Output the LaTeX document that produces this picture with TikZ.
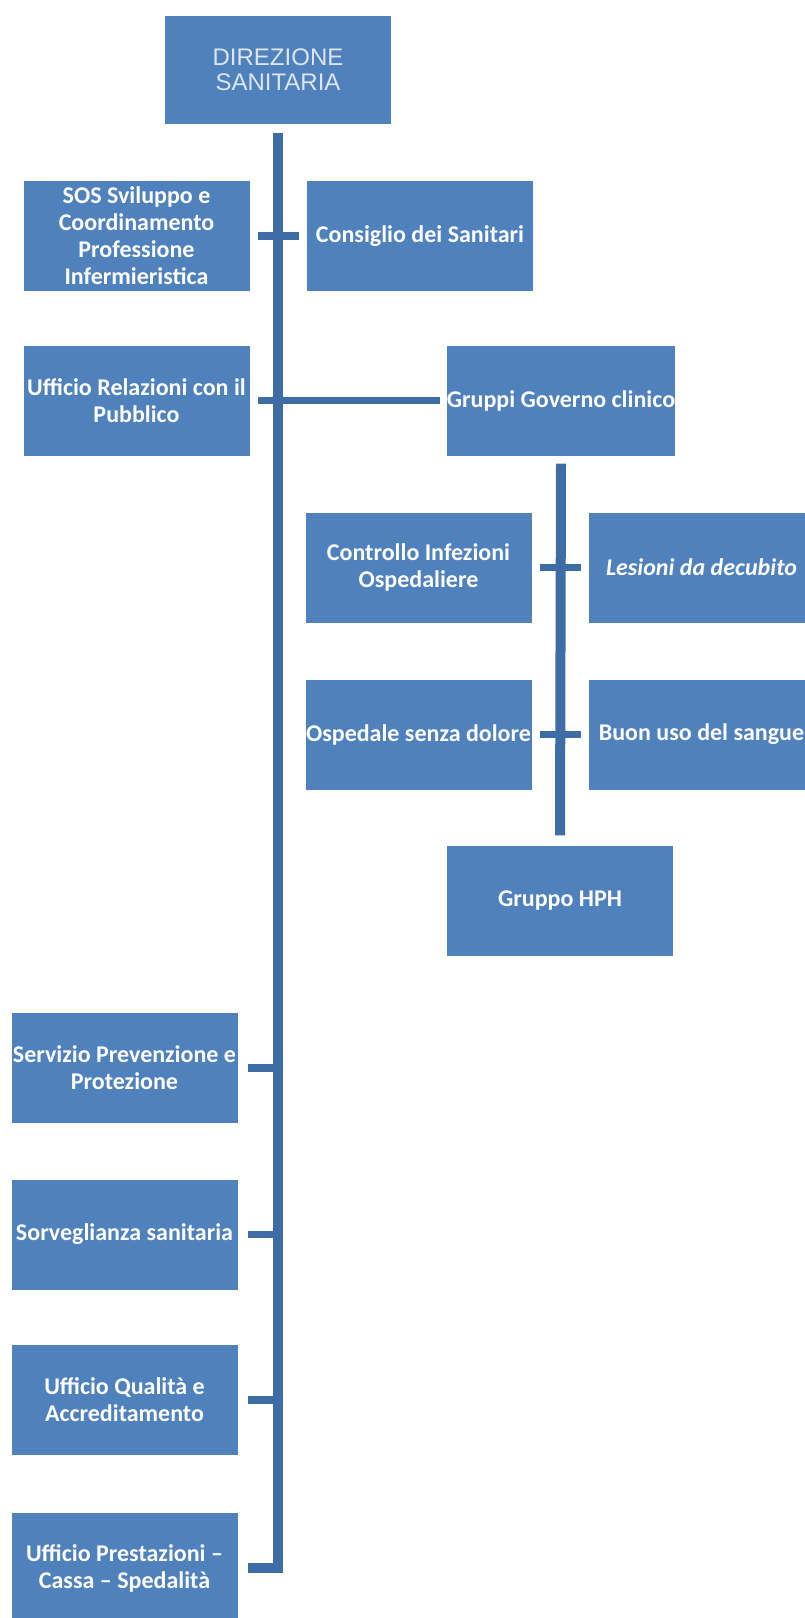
\documentclass[tikz,border=0pt]{standalone}
\usepackage{fontspec}
\newfontfamily\boxfont{Carlito}
\newfontfamily\headfont{Liberation Sans}
\definecolor{orgblue}{HTML}{4F81BD}
\definecolor{orgline}{HTML}{3E6DA6}
\definecolor{orghead}{HTML}{DDE5F0}
\usetikzlibrary{calc}

\begin{document}
\begin{tikzpicture}[x=1pt,y=-1pt,
  unit/.style={fill=orgblue,text=white,inner sep=0pt,minimum width=226pt,
    minimum height=110pt,align=center,
    font=\fontsize{24}{27}\selectfont\boxfont\bfseries},
  head/.style={unit,minimum height=108pt,text=orghead,
    font=\fontsize{24}{25}\selectfont\headfont},
  trunk/.style={orgline,line width=10pt},
  link/.style={orgline,line width=7.5pt}]
  \useasboundingbox (0,0) rectangle (804,1618);
  \node[head] (dir) at (278,70)    {DIREZIONE\\SANITARIA};
  \node[unit] (sos) at (136.5,236) {SOS Sviluppo e\\Coordinamento\\Professione\\Infermieristica};
  \node[unit] (cons) at (420,236)  {Consiglio dei Sanitari};
  \node[unit] (urp) at (136.5,400.5) {Ufficio Relazioni con il\\Pubblico};
  \node[unit] (gov) at (561,400.5) {Gruppi Governo clinico};
  \node[unit] (cio) at (418.5,567.5) {Controllo Infezioni\\Ospedaliere};
  \node[unit] (lds) at (701.5,567.5) {\itshape Lesioni da decubito};
  \node[unit] (osd) at (418.5,734.5) {Ospedale senza dolore};
  \node[unit] (bus) at (701.5,734.5) {Buon uso del sangue};
  \node[unit] (hph) at (560,900.5) {Gruppo HPH};
  \node[unit] (spp) at (124.5,1068) {Servizio Prevenzione e\\Protezione};
  \node[unit] (sor) at (124.5,1234.5) {Sorveglianza sanitaria};
  \node[unit] (uqa) at (124.5,1400) {Ufficio Qualità e\\Accreditamento};
  \node[unit] (upc) at (124.5,1568) {Ufficio Prestazioni –\\Cassa – Spedalità};
  % main line
  \draw[trunk] ([yshift=-9pt]dir.south) |- ([xshift=10pt]upc.east);
  \draw[link] ([xshift=8pt]sos.east) -- ([xshift=-8pt]cons.west);
  \draw[link] ([xshift=8pt]urp.east) -- ([xshift=-7pt]gov.west);
  \foreach \n in {spp,sor,uqa}
    \draw[link] ([xshift=10pt]\n.east) -- (\n.east -| dir.south);
  % clinical governance groups
  \draw[trunk] ([yshift=-8pt]gov.south) -- ([yshift=10pt]hph.north);
  \draw[link] ([xshift=8pt]cio.east) -- ([xshift=-7pt]lds.west);
  \draw[link] ([xshift=8pt]osd.east) -- ([xshift=-7pt]bus.west);
\end{tikzpicture}
\end{document}
